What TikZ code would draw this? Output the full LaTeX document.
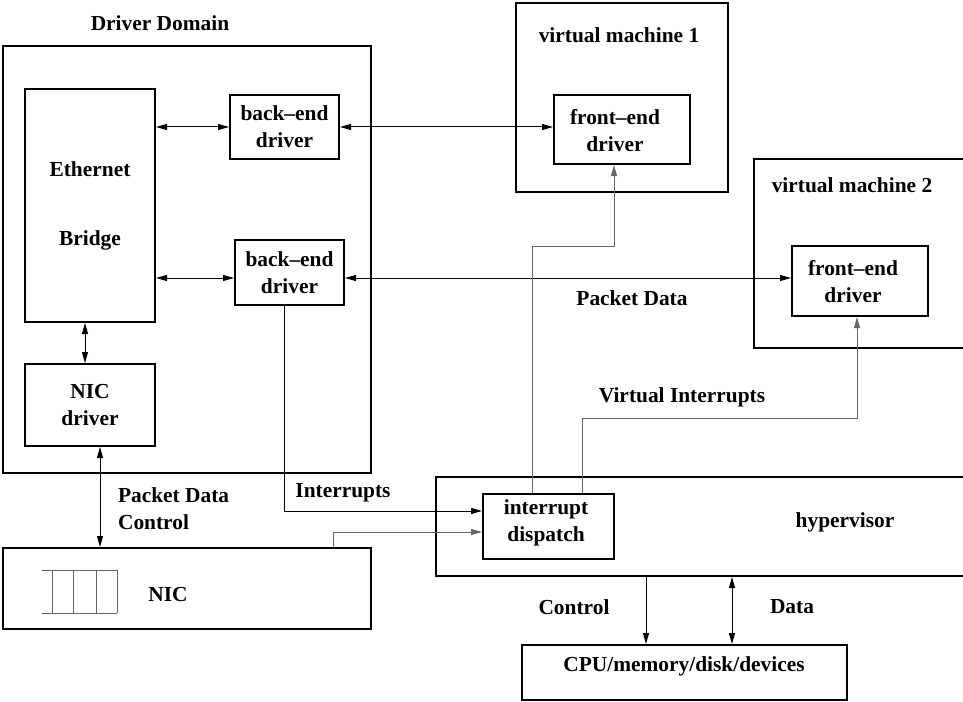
\documentclass[tikz,border=0pt]{standalone}
\usepackage{fontspec}
\setmainfont{Liberation Serif}
\usetikzlibrary{arrows.meta}
\begin{document}
\begin{tikzpicture}[x=0.5pt, y=-0.5pt, >={Triangle[length=5.5pt,width=3pt]},
    font=\fontsize{10.7}{13.5}\selectfont\bfseries,
    box/.style={draw, line width=1pt, inner sep=0pt, align=center},
    lbl/.style={align=center},
    data/.style={line width=0.5pt},
    irq/.style={line width=0.5pt, black!60}]
    \useasboundingbox (0,0) rectangle (963,701);
    \clip (0,0) rectangle (963,701);
    % driver domain
    \node[box, minimum width=184pt, minimum height=213.5pt] (domain) at (187,259.5) {};
    \node[lbl] (domainlbl) at (160,23) {Driver Domain};
    \node[box, minimum width=65pt, minimum height=116.5pt] (bridge) at (90,205.5) {Ethernet\\[21pt]Bridge};
    \node[box, minimum width=54.5pt, minimum height=32pt] (be1) at (284.5,127) {back--end\\driver};
    \node[box, minimum width=54.5pt, minimum height=32.5pt] (be2) at (289.5,272.5) {back--end\\driver};
    \node[box, minimum width=65pt, minimum height=41pt] (nicdrv) at (90,405) {NIC\\driver};
    % guests
    \node[box, minimum width=106pt, minimum height=94.5pt] (vm1) at (622,97.5) {};
    \node[lbl] (vm1lbl) at (619,35) {virtual machine 1};
    \node[box, minimum width=68pt, minimum height=34.5pt] (fe1) at (622,129.5) {};
    \node[lbl] (fe1lbl) at (615,131) {front--end\\driver};
    \node[box, minimum width=113pt, minimum height=94.5pt] (vm2) at (867,253.5) {};
    \node[lbl] (vm2lbl) at (852,185) {virtual machine 2};
    \node[box, minimum width=68pt, minimum height=35pt] (fe2) at (860,281) {};
    \node[lbl] (fe2lbl) at (853,282) {front--end\\driver};
    % hypervisor and hardware
    \node[box, minimum width=272pt, minimum height=49.5pt] (hyper) at (708,526.5) {};
    \node[lbl] (hyperlbl) at (845,522) {hypervisor};
    \node[box, minimum width=65.5pt, minimum height=32.5pt] (dispatch) at (548.5,526.5) {};
    \node[lbl] (displbl) at (546,523) {interrupt\\dispatch};
    \node[box, minimum width=184pt, minimum height=40.5pt] (nic) at (187,588.5) {};
    \node[lbl] (niclbl) at (168,595) {NIC};
    \node[box, minimum width=162.5pt, minimum height=27.5pt] (cpu) at (684.5,672.5) {};
    \node[lbl] (cpulbl) at (684,666) {CPU/memory/disk/devices};
    % nic queue
    \draw[irq] (42,570) -- (117,570) (42,613) -- (117,613);
    \foreach \x in {52,73,96,117}
        \draw[irq] (\x,570) -- (\x,613);
    % packet data
    \draw[data, <->] (bridge.east |- 0,127) -- (be1.west |- 0,127);
    \draw[data, <->] (bridge.east |- 0,278) -- (be2.west |- 0,278);
    \draw[data, <->] (be1.east |- 0,127) -- (fe1.west |- 0,127);
    \draw[data, <->] (be2.east |- 0,278) -- (fe2.west |- 0,278);
    \draw[data, <->] (bridge.south -| 85,0) -- (nicdrv.north -| 85,0);
    \draw[data, <->] (nicdrv.south -| 100,0) -- (nic.north -| 100,0);
    \node[lbl] (pdlbl) at (632,298) {Packet Data};
    \node[anchor=west, align=left] (pdclbl) at (111,509) {Packet Data\\Control};
    % interrupts
    \draw[data, ->] (be2.south -| 284,0) |- (dispatch.west |- 0,511);
    \draw[irq, ->] (nic.north -| 333,0) |- (dispatch.west |- 0,532);
    \node[lbl] (irqlbl) at (343,493) {Interrupts};
    \draw[irq, ->] (dispatch.north -| 532,0) -- (532,246) -| (fe1.south -| 614,0);
    \draw[irq, ->] (dispatch.north -| 582,0) -- (582,418) -| (fe2.south -| 857,0);
    \node[lbl] (virqlbl) at (682,397) {Virtual Interrupts};
    % hardware access
    \draw[data, ->] (hyper.south -| 646,0) -- (cpu.north -| 646,0);
    \draw[data, <->] (hyper.south -| 732,0) -- (cpu.north -| 732,0);
    \node[lbl] (ctllbl) at (574,607) {Control};
    \node[lbl] (datalbl) at (792,607) {Data};
\end{tikzpicture}
\end{document}
